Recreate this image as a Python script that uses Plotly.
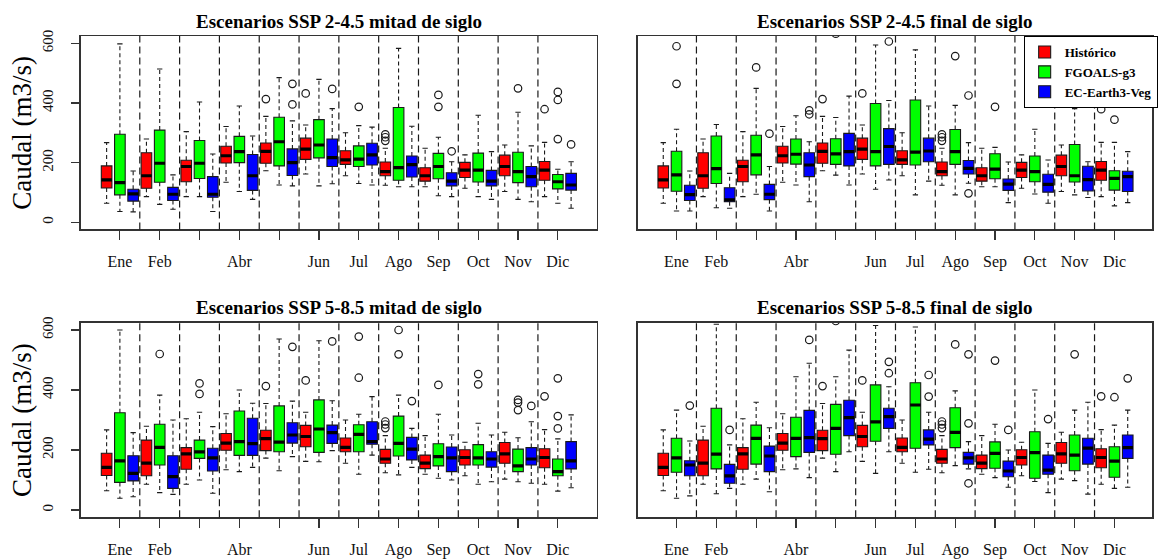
import plotly.graph_objects as go

MONTHS = ["Ene", "Feb", "Mar", "Abr", "May", "Jun", "Jul", "Ago", "Sep", "Oct", "Nov", "Dic"]
# R dropped the overlapping "Mar" and "May" labels in the original figure
TICK_TEXT = ["Ene", "Feb", "", "Abr", "", "Jun", "Jul", "Ago", "Sep", "Oct", "Nov", "Dic"]
SERIES = ["Histórico", "FGOALS-g3", "EC-Earth3-Veg"]
COLORS = ["#FF0000", "#00FF00", "#0000FF"]
TITLES = ["Escenarios SSP 2-4.5 mitad de siglo", "Escenarios SSP 2-4.5 final de siglo",
          "Escenarios SSP 5-8.5 mitad de siglo", "Escenarios SSP 5-8.5 final de siglo"]
Y_TICKS = [0, 200, 400, 600]

# Each row (one per month): [lower whisker, Q1, median, Q3, upper whisker]  (m3/s)
historico = [[64, 115, 142, 189, 267], [86, 114, 156, 233, 279], [86, 136, 187, 208, 304],
             [134, 199, 223, 255, 321], [173, 198, 238, 266, 355], [162, 211, 245, 282, 326],
             [156, 194, 209, 240, 300], [124, 156, 170, 202, 248], [119, 138, 156, 183, 248],
             [114, 150, 175, 201, 226], [103, 156, 187, 225, 259], [86, 141, 175, 204, 268]]
historico_out = [[], [], [], [], [413], [432], [], [295, 285, 273], [], [], [], [379]]

fgoals_245_mid = [[36, 92, 133, 295, 598], [60, 134, 198, 309, 514], [86, 147, 198, 274, 403],
                  [103, 200, 237, 288, 390], [125, 189, 270, 352, 485], [122, 216, 259, 344, 479],
                  [130, 187, 212, 256, 324], [119, 141, 183, 385, 583], [89, 146, 187, 231, 285],
                  [86, 135, 175, 232, 359], [77, 133, 170, 235, 369], [64, 112, 136, 160, 178]]
fgoals_245_mid_out = [[], [], [], [], [], [], [387], [], [427, 387], [], [449], [437, 410, 279]]

ecearth_245_mid = [[35, 71, 95, 111, 172], [44, 73, 94, 117, 159], [36, 84, 94, 153, 229],
                   [77, 107, 156, 227, 289], [122, 157, 200, 246, 340], [129, 187, 217, 279, 381],
                   [125, 192, 226, 265, 319], [119, 152, 193, 222, 322], [86, 122, 138, 166, 203],
                   [77, 122, 138, 174, 237], [69, 119, 153, 187, 256], [47, 108, 125, 164, 203]]
ecearth_245_mid_out = [[], [], [], [], [464, 395], [447], [], [], [238], [], [], [261]]

fgoals_245_fin = [[38, 104, 159, 238, 312], [49, 130, 180, 289, 328], [94, 159, 226, 292, 449],
                  [125, 195, 228, 279, 357], [158, 194, 229, 280, 351], [111, 189, 237, 398, 594],
                  [92, 192, 235, 410, 578], [92, 194, 237, 311, 392], [119, 146, 178, 230, 251],
                  [95, 136, 170, 222, 312], [92, 135, 156, 261, 381], [55, 108, 147, 173, 268]]
fgoals_245_fin_out = [[590, 464], [], [519], [], [632], [], [], [557], [387], [], [], [344]]

ecearth_245_fin = [[38, 73, 93, 124, 172], [47, 69, 75, 116, 164], [38, 76, 94, 127, 187],
                   [69, 153, 192, 233, 270], [125, 189, 237, 298, 423], [142, 194, 254, 314, 408],
                   [138, 203, 239, 282, 390], [131, 162, 181, 207, 267], [66, 107, 128, 145, 202],
                   [64, 101, 127, 161, 209], [83, 105, 143, 188, 203], [66, 103, 153, 171, 237]]
ecearth_245_fin_out = [[], [], [297], [375, 362], [], [606], [], [425, 97], [], [], [], []]

fgoals_585_mid = [[39, 92, 164, 324, 600], [58, 150, 209, 286, 383], [100, 172, 194, 233, 326],
                  [128, 182, 228, 330, 400], [131, 194, 226, 347, 570], [161, 192, 270, 367, 564],
                  [119, 194, 252, 284, 319], [117, 180, 222, 313, 383], [106, 147, 178, 221, 319],
                  [86, 150, 174, 218, 289], [94, 128, 147, 203, 241], [63, 114, 128, 170, 237]]
fgoals_585_mid_out = [[], [520], [422, 387], [], [], [], [578, 441], [600, 519], [417],
                      [453, 419], [367, 358, 333], [439, 313, 272]]

ecearth_585_mid = [[44, 97, 122, 181, 258], [52, 72, 111, 181, 300], [56, 130, 174, 206, 278],
                   [142, 182, 221, 306, 356], [178, 223, 250, 291, 363], [198, 222, 258, 283, 364],
                   [183, 219, 228, 294, 378], [142, 167, 203, 242, 272], [100, 128, 174, 210, 250],
                   [94, 143, 170, 194, 250], [89, 150, 170, 208, 294], [74, 137, 164, 228, 317]]
ecearth_585_mid_out = [[], [], [], [], [544], [562], [], [363], [], [], [347], []]

fgoals_585_fin = [[39, 126, 174, 239, 333], [54, 137, 186, 339, 619], [103, 153, 239, 283, 359],
                  [137, 178, 239, 309, 444], [128, 186, 272, 352, 444], [122, 229, 294, 417, 615],
                  [126, 206, 350, 424, 610], [148, 208, 259, 341, 397], [108, 139, 189, 227, 286],
                  [95, 106, 191, 261, 400], [98, 131, 183, 250, 333], [72, 109, 163, 211, 283]]
fgoals_585_fin_out = [[], [], [], [], [630], [], [], [552], [498], [], [519], [376]]

ecearth_585_fin = [[47, 114, 150, 164, 230], [72, 89, 114, 152, 217], [61, 128, 180, 213, 274],
                   [108, 192, 241, 332, 489], [194, 248, 308, 366, 533], [194, 272, 311, 339, 411],
                   [136, 217, 236, 267, 326], [137, 153, 174, 192, 228], [76, 111, 130, 163, 200],
                   [58, 119, 133, 183, 222], [53, 153, 206, 239, 359], [76, 172, 208, 250, 333]]
ecearth_585_fin_out = [[348], [267], [], [567], [], [494, 456], [450, 378], [519, 289, 89],
                       [267], [303], [], [439]]

PANELS = [
    [(historico, historico_out), (fgoals_245_mid, fgoals_245_mid_out), (ecearth_245_mid, ecearth_245_mid_out)],
    [(historico, historico_out), (fgoals_245_fin, fgoals_245_fin_out), (ecearth_245_fin, ecearth_245_fin_out)],
    [(historico, historico_out), (fgoals_585_mid, fgoals_585_mid_out), (ecearth_585_mid, ecearth_585_mid_out)],
    [(historico, historico_out), (fgoals_585_fin, fgoals_585_fin_out), (ecearth_585_fin, ecearth_585_fin_out)],
]

# ---------------- layout geometry (paper fractions) ----------------
W, H = 1158, 559
X_DOMAINS = [[0.0702, 0.5181], [0.5534, 1.0], [0.0702, 0.5181], [0.5534, 1.0]]
X_RANGES = [[-0.94, 37.94], [-0.94, 37.83], [-0.94, 37.94], [-0.94, 37.83]]
Y_DOMAINS = [[0.5895, 0.9354], [0.5895, 0.9354], [0.0748, 0.4225], [0.0748, 0.4225]]
Y_RANGE = [-24, 624]
N_SER = len(SERIES)
BOX_HALF = 0.4
STAPLE_HALF = 0.2
SERIF = "Liberation Serif, Times New Roman, serif"
INK = "#1a1a1a"

fig = go.Figure()
shapes = []
annotations = []

for k, panel in enumerate(PANELS):
    xa = "x" if k == 0 else f"x{k + 1}"
    ya = "y" if k == 0 else f"y{k + 1}"
    for s, (stats, outs) in enumerate(panel):
        pos = [N_SER * m + s + 1 for m in range(len(MONTHS))]
        lo = [r[0] for r in stats]
        q1 = [r[1] for r in stats]
        med = [r[2] for r in stats]
        q3 = [r[3] for r in stats]
        hi = [r[4] for r in stats]

        fig.add_trace(go.Bar(
            x=pos, base=q1, y=[b - a for a, b in zip(q1, q3)], width=BOX_HALF * 2,
            marker=dict(color=COLORS[s], line=dict(color=INK, width=1.1)),
            name=SERIES[s], legendgroup=SERIES[s], showlegend=(k == 1),
            xaxis=xa, yaxis=ya, hoverinfo="skip"))

        wx, wy = [], []
        for p, a, b, c, d in zip(pos, lo, q1, q3, hi):
            wx += [p, p, None, p, p, None]
            wy += [c, d, None, b, a, None]
        fig.add_trace(go.Scatter(x=wx, y=wy, mode="lines", xaxis=xa, yaxis=ya,
                                 line=dict(color=INK, width=1.1, dash="4px,3px"),
                                 showlegend=False, hoverinfo="skip"))

        sx, sy = [], []
        for p, a, d in zip(pos, lo, hi):
            sx += [p - STAPLE_HALF, p + STAPLE_HALF, None, p - STAPLE_HALF, p + STAPLE_HALF, None]
            sy += [a, a, None, d, d, None]
        fig.add_trace(go.Scatter(x=sx, y=sy, mode="lines", xaxis=xa, yaxis=ya,
                                 line=dict(color=INK, width=1.1),
                                 showlegend=False, hoverinfo="skip"))

        mx, my = [], []
        for p, m_ in zip(pos, med):
            mx += [p - BOX_HALF, p + BOX_HALF, None]
            my += [m_, m_, None]
        fig.add_trace(go.Scatter(x=mx, y=my, mode="lines", xaxis=xa, yaxis=ya,
                                 line=dict(color="#000000", width=3.2),
                                 showlegend=False, hoverinfo="skip"))

        ox, oy = [], []
        for p, vals in zip(pos, outs):
            for v in vals:
                ox.append(p)
                oy.append(v)
        if ox:
            fig.add_trace(go.Scatter(x=ox, y=oy, mode="markers", xaxis=xa, yaxis=ya,
                                     marker=dict(symbol="circle-open", size=7.5,
                                                 color=INK, line=dict(width=1.2)),
                                     showlegend=False, hoverinfo="skip", cliponaxis=True))

    # dashed month separators
    for m in range(1, len(MONTHS)):
        xs = N_SER * m + 0.5
        shapes.append(dict(type="line", xref=xa, yref=f"{ya} domain", x0=xs, x1=xs, y0=0, y1=1,
                           line=dict(color=INK, width=1.2, dash="7px,4px"), layer="above"))

    xaxis_cfg = dict(
        domain=X_DOMAINS[k], range=X_RANGES[k], anchor=ya,
        tickmode="array", tickvals=[N_SER * m + 2 for m in range(len(MONTHS))], ticktext=TICK_TEXT,
        ticks="outside", ticklen=9, tickwidth=1.2, tickcolor="#333",
        showline=True, mirror=True, linecolor="#333", linewidth=1.5,
        showgrid=False, zeroline=False, automargin=False, fixedrange=True,
        tickfont=dict(family=SERIF, size=16, color="#111"), ticklabelstandoff=8)
    is_left = k % 2 == 0
    yaxis_cfg = dict(
        domain=Y_DOMAINS[k], range=Y_RANGE, anchor=xa,
        tickmode="array", tickvals=Y_TICKS if is_left else [],
        showticklabels=is_left, ticks="outside" if is_left else "",
        ticklen=8, tickwidth=1.2, tickcolor="#333", tickangle=-90,
        showline=True, mirror=True, linecolor="#333", linewidth=1.5,
        showgrid=False, zeroline=False, automargin=False, fixedrange=True,
        tickfont=dict(family=SERIF, size=15, color="#111"), ticklabelstandoff=12)
    fig.update_layout(**{("xaxis" if k == 0 else f"xaxis{k + 1}"): xaxis_cfg,
                         ("yaxis" if k == 0 else f"yaxis{k + 1}"): yaxis_cfg})

    cx = (X_DOMAINS[k][0] + X_DOMAINS[k][1] * 1.0012) / 2
    top_px = (1 - Y_DOMAINS[k][1]) * H
    annotations.append(dict(text=f"<b>{TITLES[k]}</b>", xref="paper", yref="paper",
                            x=cx, y=1 - (top_px - 15) / H, xanchor="center", yanchor="middle",
                            showarrow=False, font=dict(family=SERIF, size=19, color="#000")))
    if is_left:
        annotations.append(dict(text="Caudal (m3/s)", xref="paper", yref="paper",
                                x=22 / W, y=(Y_DOMAINS[k][0] + Y_DOMAINS[k][1]) / 2,
                                xanchor="center", yanchor="middle", textangle=-90,
                                showarrow=False, font=dict(family=SERIF, size=27, color="#000")))

fig.update_layout(
    width=W, height=H, margin=dict(l=0, r=0, t=0, b=0),
    barmode="overlay", plot_bgcolor="white", paper_bgcolor="white",
    shapes=shapes, annotations=annotations,
    font=dict(family=SERIF, color="#000"),
    legend=dict(x=1029 / W, y=1 - 36 / H, xanchor="left", yanchor="top",
                bgcolor="white", bordercolor="#000", borderwidth=1,
                font=dict(family=SERIF, size=13, color="#000", weight="bold"),
                traceorder="normal", itemwidth=30, tracegroupgap=0),
)

fig.write_html("out.html",
               config={"displayModeBar": False, "staticPlot": True},
               post_script="document.body.style.margin='0px';"
                           "document.body.style.overflow='hidden';")
